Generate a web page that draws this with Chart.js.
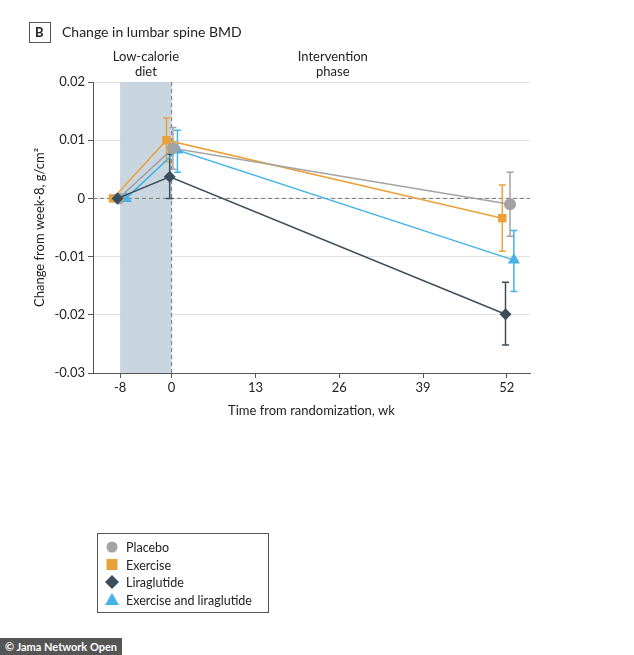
<!DOCTYPE html>
<html><head><meta charset="utf-8">
<script src="https://cdn.jsdelivr.net/npm/chart.js@4"></script>
<style>
body{margin:0;background:#fff;font-family:Lato,sans-serif}
#wrap{position:relative;width:634px;height:655px}
#foot{position:absolute;left:0;top:638px;background:#555;color:#fff;font:bold 11px Lato,sans-serif;padding:2px 5px}
</style></head><body>
<div id="wrap"><canvas id="c" width="634" height="655"></canvas><div id="foot">© Jama Network Open</div></div>
<script>
const seriesNames=['Placebo','Exercise','Liraglutide','Exercise and liraglutide'];
const colors=['#a3a3a3','#e9a23b','#3d4e5b','#45b3e6'];
const styles=['circle','rect','rectRot','triangle'];
const xTicks=[-8,0,13,26,39,52];
const yTicks=[-0.03,-0.02,-0.01,0,0.01,0.02];
// x positions (weeks, with display offset), values, lower and upper CI
const placeboX=[-8.2,0.2,52.5], placeboY=[0,0.0086,-0.0010], placeboLo=[0,0.0050,-0.0065], placeboHi=[0,0.0122,0.0045];
const exerciseX=[-9.1,-0.8,51.3], exerciseY=[0,0.0100,-0.0034], exerciseLo=[0,0.0063,-0.0091], exerciseHi=[0,0.0138,0.0023];
const liraX=[-8.4,-0.3,51.8], liraY=[0,0.0037,-0.0199], liraLo=[0,0.0000,-0.0252], liraHi=[0,0.0076,-0.0144];
const bothX=[-7.1,0.9,53.1], bothY=[0,0.0083,-0.0106], bothLo=[0,0.0045,-0.0160], bothHi=[0,0.0117,-0.0055];
const X=[placeboX,exerciseX,liraX,bothX],Y=[placeboY,exerciseY,liraY,bothY],LO=[placeboLo,exerciseLo,liraLo,bothLo],HI=[placeboHi,exerciseHi,liraHi,bothHi];
const order=[0,1,3,2];
const datasets=order.map(i=>({label:seriesNames[i],data:X[i].map((x,j)=>({x,y:Y[i][j]})),lo:LO[i],hi:HI[i],
 borderColor:colors[i],backgroundColor:colors[i],pointStyle:styles[i],pointRadius:i===3?7:6,borderWidth:1.5,pointBorderWidth:0,order:i===2?0:1}));
const deco={id:'deco',
 beforeDatasetsDraw(ch){const {ctx,scales:{x,y},chartArea:a}=ch;ctx.save();
  ctx.fillStyle='#c9d6df';ctx.fillRect(x.getPixelForValue(-8),a.top,x.getPixelForValue(0)-x.getPixelForValue(-8),a.bottom-a.top);
  ctx.strokeStyle='#777';ctx.setLineDash([4,3]);ctx.lineWidth=1;
  ctx.beginPath();ctx.moveTo(x.getPixelForValue(0),a.top);ctx.lineTo(x.getPixelForValue(0),a.bottom);
  ctx.moveTo(a.left,y.getPixelForValue(0));ctx.lineTo(a.right,y.getPixelForValue(0));ctx.stroke();ctx.setLineDash([]);
  ch.data.datasets.forEach(d=>{ctx.strokeStyle=d.borderColor;ctx.lineWidth=1.5;
   d.data.forEach((p,j)=>{if(d.lo[j]===d.hi[j])return;const px=x.getPixelForValue(p.x),y1=y.getPixelForValue(d.lo[j]),y2=y.getPixelForValue(d.hi[j]);
    ctx.beginPath();ctx.moveTo(px,y1);ctx.lineTo(px,y2);ctx.moveTo(px-3.5,y1);ctx.lineTo(px+3.5,y1);ctx.moveTo(px-3.5,y2);ctx.lineTo(px+3.5,y2);ctx.stroke();});});
  ctx.fillStyle='#222';ctx.font='13px Lato';ctx.textAlign='center';ctx.textBaseline='middle';
  const cx=x.getPixelForValue(-4);ctx.fillText('Low-calorie',cx,a.top-25);ctx.fillText('diet',cx,a.top-10);
  const ix=x.getPixelForValue(25);ctx.fillText('Intervention',ix,a.top-25);ctx.fillText('phase',ix,a.top-10);
  ctx.textAlign='left';ctx.font='14px Lato';ctx.fillText('Change in lumbar spine BMD',62,32);
  ctx.strokeStyle='#555';ctx.lineWidth=1;ctx.strokeRect(29.5,22.5,21,20);ctx.font='bold 13px Lato';ctx.fillText('B',35,33);
  ctx.restore();},
 afterDraw(ch){const ctx=ch.ctx;ctx.save();ctx.strokeStyle='#555';ctx.lineWidth=1;ctx.strokeRect(97.5,533.5,171,79);
  ctx.font='12.5px Lato';ctx.textBaseline='middle';
  seriesNames.forEach((n,i)=>{const yy=547+i*17.5;ctx.fillStyle=colors[i];ctx.beginPath();
   if(i===0){ctx.arc(112,yy,5.5,0,7);}else if(i===1){ctx.rect(106.5,yy-5.5,11,11);}else if(i===2){ctx.moveTo(112,yy-7);ctx.lineTo(119,yy);ctx.lineTo(112,yy+7);ctx.lineTo(105,yy);}else{ctx.moveTo(112,yy-6.5);ctx.lineTo(119,yy+5.5);ctx.lineTo(105,yy+5.5);}
   ctx.fill();ctx.fillStyle='#222';ctx.fillText(n,126,yy+1);});ctx.restore();}};
new Chart(document.getElementById('c'),{type:'line',data:{datasets},plugins:[deco],
 options:{responsive:false,animation:false,layout:{padding:{top:82,right:104,bottom:232,left:28}},
  plugins:{legend:{display:false},tooltip:{enabled:false}},
  scales:{
   x:{type:'linear',min:-12.2,max:55.6,afterBuildTicks:s=>{s.ticks=xTicks.map(v=>({value:v}))},afterFit:s=>{s.height=50},
    border:{color:'#555'},grid:{display:true,drawOnChartArea:false,tickColor:'#555',tickLength:5},
    ticks:{color:'#222',font:{family:'Lato',size:13},padding:2,autoSkip:false,callback:v=>String(v)},
    title:{display:true,text:'Time from randomization, wk',color:'#222',font:{family:'Lato',size:13},padding:{top:2}}},
   y:{min:-0.03,max:0.02,afterBuildTicks:s=>{s.ticks=yTicks.map(v=>({value:v}))},afterFit:s=>{s.width=65},
    border:{color:'#555'},grid:{color:'#e2e2e2',tickColor:'#555',tickLength:5},
    ticks:{color:'#222',font:{family:'Lato',size:13},padding:3,callback:v=>Math.abs(v)<1e-9?'0':v.toFixed(2)},
    title:{display:true,text:'Change from week-8, g/cm²',color:'#222',font:{family:'Lato',size:13},padding:{bottom:4}}}}}});
</script></body></html>
